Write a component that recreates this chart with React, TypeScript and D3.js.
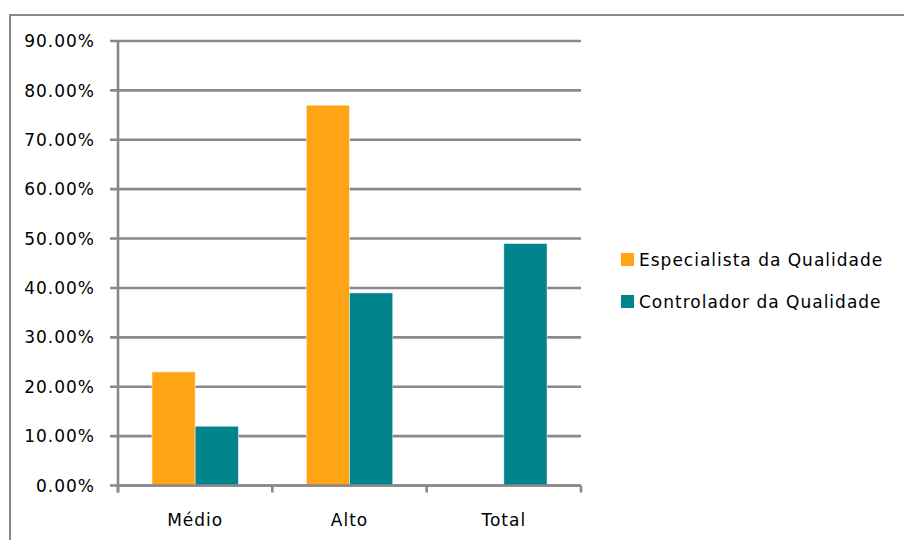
import React from "react";
import * as d3 from "d3";

const categories = ["Médio", "Alto", "Total"];
const seriesNames = ["Especialista da Qualidade", "Controlador da Qualidade"];
const especialista = [0.23, 0.77, 0];
const controlador = [0.12, 0.39, 0.49];
const yTicks = [0, 0.1, 0.2, 0.3, 0.4, 0.5, 0.6, 0.7, 0.8, 0.9];
const colors = ["#FFA515", "#02848C"];

const W = 904;
const H = 540;
const plot = { left: 118, right: 581, top: 41, bottom: 485.5 };
const font = "'DejaVu Sans', sans-serif";
const gridColor = "#898989";
const fontSize = 17;
const spacing = 1;

export default function App() {
  const x = d3.scaleBand<string>().domain(categories).range([plot.left, plot.right]);
  const bw = x.bandwidth();
  const xs = d3.scaleBand<string>().domain(seriesNames).range([bw * 0.22, bw * 0.78]);
  const y = d3.scaleLinear().domain([0, 0.9]).range([plot.bottom, plot.top]);
  const fmt = d3.format(".2%");
  const values = [especialista, controlador];

  const boundaries = [plot.left, ...categories.map((c) => (x(c) as number) + bw)];

  return (
    <svg
      width={W}
      height={H}
      style={{ position: "absolute", left: 0, top: 0, background: "#fff" }}
      fontFamily={font}
    >
      <rect x={0} y={0} width={W} height={H} fill="#fff" />
      {/* chart frame */}
      <path d={`M10,${H + 5} V15 H${W + 5}`} fill="none" stroke={gridColor} strokeWidth={2} />

      {/* gridlines and y ticks */}
      {yTicks.map((t) => (
        <g key={t}>
          <line x1={plot.left - 8} x2={plot.right} y1={y(t)} y2={y(t)} stroke={gridColor} strokeWidth={2.6} />
          <text
            x={95}
            y={y(t)}
            dy="0.36em"
            textAnchor="end"
            fontSize={fontSize}
            letterSpacing={spacing}
            fill="#000"
          >
            {fmt(t)}
          </text>
        </g>
      ))}

      {/* bars */}
      {seriesNames.map((s, si) =>
        categories.map((c, ci) =>
          values[si][ci] > 0 ? (
            <rect
              key={s + c}
              x={(x(c) as number) + (xs(s) as number)}
              y={y(values[si][ci])}
              width={xs.bandwidth()}
              height={y(0) - y(values[si][ci])}
              fill={colors[si]}
              stroke="#fff"
              strokeOpacity={0.6}
              strokeWidth={0.8}
            />
          ) : null
        )
      )}

      {/* y axis */}
      <line x1={plot.left} x2={plot.left} y1={plot.top - 1} y2={plot.bottom + 7} stroke={gridColor} strokeWidth={2.6} />
      {/* x axis */}
      <line x1={plot.left} x2={plot.right} y1={plot.bottom} y2={plot.bottom} stroke={gridColor} strokeWidth={2.6} />
      {boundaries.map((b, i) => (
        <line key={i} x1={b} x2={b} y1={plot.bottom} y2={plot.bottom + 7} stroke={gridColor} strokeWidth={2.6} />
      ))}
      {categories.map((c) => (
        <text
          key={c}
          x={(x(c) as number) + bw / 2}
          y={526}
          textAnchor="middle"
          fontSize={fontSize}
          letterSpacing={spacing}
          fill="#000"
        >
          {c}
        </text>
      ))}

      {/* legend */}
      {seriesNames.map((s, i) => (
        <g key={s} transform={`translate(621, ${253 + i * 42})`}>
          <rect x={0} y={0} width={13} height={13} fill={colors[i]} />
          <text x={18} y={6.5} dy="0.36em" fontSize={fontSize} letterSpacing={spacing} fill="#000">
            {s}
          </text>
        </g>
      ))}
    </svg>
  );
}
